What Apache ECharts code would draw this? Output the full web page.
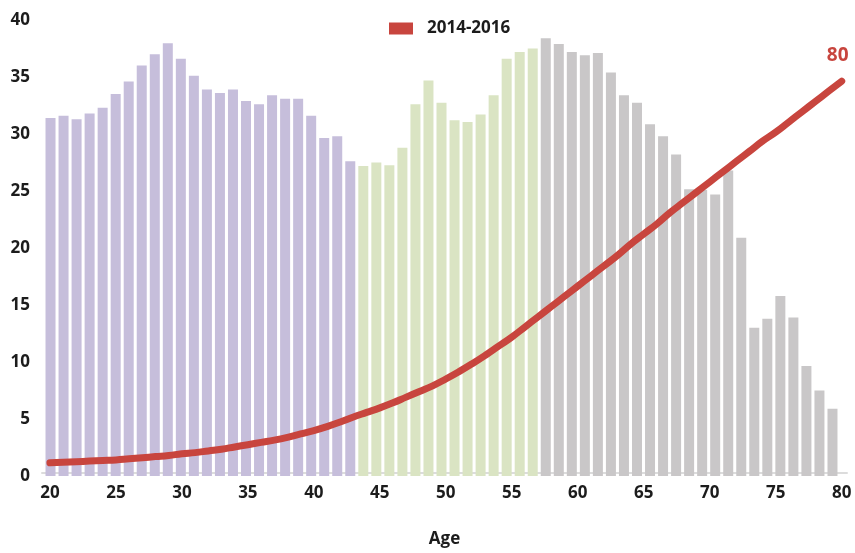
<!DOCTYPE html>
<html>
<head>
<meta charset="utf-8">
<script src="https://cdn.jsdelivr.net/npm/echarts@6/dist/echarts.min.js"></script>
<style>
  html, body { margin: 0; padding: 0; background: #ffffff; }
  #chart { width: 855px; height: 553px; }
</style>
</head>
<body>
<div id="chart"></div>
<script>
// Single years of age on the horizontal axis
const ages = [20, 21, 22, 23, 24, 25, 26, 27, 28, 29,
              30, 31, 32, 33, 34, 35, 36, 37, 38, 39,
              40, 41, 42, 43, 44, 45, 46, 47, 48, 49,
              50, 51, 52, 53, 54, 55, 56, 57, 58, 59,
              60, 61, 62, 63, 64, 65, 66, 67, 68, 69,
              70, 71, 72, 73, 74, 75, 76, 77, 78, 79, 80];

// Bar values by age
const barValues = [31.4, 31.6, 31.3, 31.8, 32.3, 33.5, 34.6, 36.0, 37.0, 37.95,
                   36.6, 35.1, 33.9, 33.6, 33.9, 32.9, 32.6, 33.4, 33.1, 33.1,
                   31.6, 29.65, 29.8, 27.6, 27.2, 27.5, 27.25, 28.8, 32.6, 34.7,
                   32.75, 31.2, 31.05, 31.7, 33.4, 36.6, 37.2, 37.5, 38.4, 37.9,
                   37.2, 36.9, 37.1, 35.4, 33.4, 32.75, 30.85, 29.8, 28.2, 25.15,
                   25.1, 24.7, 26.8, 20.9, 13.0, 13.8, 15.8, 13.9, 9.65, 7.5, 5.9];

// 2014-2016 curve by age
const lineValues = [0.9, 0.95, 1.0, 1.05, 1.1, 1.15, 1.25, 1.35, 1.45, 1.55,
                    1.7, 1.8, 1.95, 2.1, 2.3, 2.5, 2.7, 2.9, 3.15, 3.45,
                    3.75, 4.1, 4.5, 4.95, 5.35, 5.75, 6.2, 6.7, 7.2, 7.7,
                    8.3, 8.95, 9.65, 10.4, 11.2, 12.0, 12.9, 13.8, 14.7, 15.6,
                    16.5, 17.4, 18.3, 19.2, 20.2, 21.1, 22.0, 23.0, 23.9, 24.8,
                    25.7, 26.6, 27.5, 28.4, 29.3, 30.1, 31.0, 31.9, 32.8, 33.7, 34.6];

// Age bands for bar colouring: last age of each band
const bandLastAge = [43, 57, 80];
const bandColors = ['#c6bedb', '#dae4c3', '#c9c7c8'];

const xTickLabels = [20, 25, 30, 35, 40, 45, 50, 55, 60, 65, 70, 75, 80];
const yTickLabels = [0, 5, 10, 15, 20, 25, 30, 35, 40];
const seriesName = '2014-2016';

const FONT = '"Open Sans", "Noto Sans", sans-serif';
const TEXT = '#1c1c1c';
const RED = '#c8453e';

function bandColor(age) {
  for (let i = 0; i < bandLastAge.length; i++) {
    if (age <= bandLastAge[i]) return bandColors[i];
  }
  return bandColors[bandColors.length - 1];
}

const barData = ages.map((a, i) => ({
  value: barValues[i],
  itemStyle: { color: bandColor(a) }
}));

const lastIdx = ages.length - 1;
const lineData = ages.map((a, i) => (i === lastIdx
  ? { value: [a, lineValues[i]], label: { show: true } }
  : [a, lineValues[i]]));

const chart = echarts.init(document.getElementById('chart'), null, { renderer: 'canvas' });

chart.setOption({
  animation: false,
  backgroundColor: '#ffffff',
  textStyle: { fontFamily: FONT },
  legend: {
    data: [seriesName],
    left: 389,
    top: 20,
    padding: 0,
    icon: 'rect',
    itemWidth: 24,
    itemHeight: 12,
    textStyle: {
      fontFamily: FONT, fontSize: 17, fontWeight: 'bold', color: TEXT,
      padding: [0, 0, 0, 9]
    }
  },
  grid: [
    { left: 44, right: 16, top: 20, bottom: 77 },
    { left: 42, right: 8, top: 20, bottom: 77 }
  ],
  xAxis: [
    {
      type: 'category',
      gridIndex: 0,
      data: ages,
      boundaryGap: true,
      axisLine: { show: false },
      axisTick: { show: false },
      axisLabel: { show: false },
      splitLine: { show: false }
    },
    {
      type: 'value',
      gridIndex: 1,
      min: 19.4,
      max: 80.4,
      axisLine: { show: true, lineStyle: { color: '#dcdcdc', width: 2 } },
      axisTick: { show: false },
      splitLine: { show: false },
      axisLabel: {
        customValues: xTickLabels,
        fontFamily: FONT, fontSize: 17, fontWeight: 'bold', color: TEXT,
        margin: 12
      },
      name: 'Age',
      nameLocation: 'middle',
      nameGap: 58,
      nameTextStyle: { fontFamily: FONT, fontSize: 17, fontWeight: 'bold', color: TEXT }
    }
  ],
  yAxis: [
    {
      type: 'value',
      gridIndex: 0,
      min: 0,
      max: 40,
      interval: 5,
      axisLine: { show: false },
      axisTick: { show: false },
      splitLine: { show: false },
      axisLabel: {
        customValues: yTickLabels,
        fontFamily: FONT, fontSize: 17, fontWeight: 'bold', color: TEXT,
        margin: 14
      }
    },
    {
      type: 'value',
      gridIndex: 1,
      min: 0,
      max: 40,
      interval: 5,
      show: false
    }
  ],
  series: [
    {
      type: 'bar',
      name: 'bars',
      xAxisIndex: 0,
      yAxisIndex: 0,
      data: barData,
      barWidth: 10,
      z: 2
    },
    {
      type: 'line',
      name: seriesName,
      xAxisIndex: 1,
      yAxisIndex: 1,
      data: lineData,
      smooth: true,
      symbol: 'circle',
      symbolSize: 0,
      showSymbol: true,
      itemStyle: { color: RED },
      lineStyle: { color: RED, width: 7, cap: 'round', join: 'round' },
      label: {
        show: false,
        position: 'top',
        distance: 16,
        offset: [-4, 0],
        formatter: p => String(p.value[0]),
        fontFamily: FONT, fontSize: 19, fontWeight: 'bold', color: RED
      },
      z: 5
    }
  ]
});
</script>
</body>
</html>
